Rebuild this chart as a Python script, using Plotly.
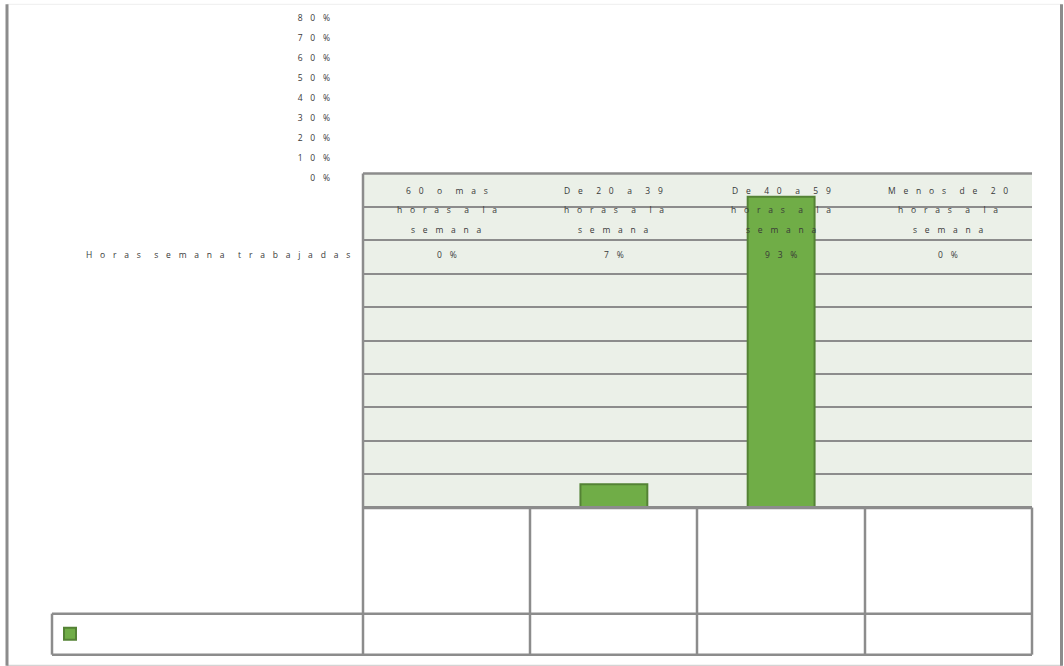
import plotly.graph_objects as go

# ---- data ----
categories = ["60 o mas horas a la semana", "De 20 a 39 horas a la semana",
              "De 40 a 59 horas a la semana", "Menos de 20 horas a la semana"]
category_lines = [["60 o mas", "horas a la", "semana"],
                  ["De 20 a 39", "horas a la", "semana"],
                  ["De 40 a 59", "horas a la", "semana"],
                  ["Menos de 20", "horas a la", "semana"]]
values = [0, 7, 93, 0]  # percent
series_name = "Horas semana trabajadas"
tick_values = [0, 10, 20, 30, 40, 50, 60, 70, 80]
tick_labels = ["0 %", "10 %", "20 %", "30 %", "40 %", "50 %", "60 %", "70 %", "80 %"]

W, H = 1064, 666
SEP = "\u2002\u2005\u2006"   # gap between letters
WSEP = "\u2002\u2006"        # extra gap between words


def spaced(s, word_gap=True):
    words = s.split(" ")
    joiner = SEP + WSEP if word_gap else SEP
    return joiner.join(SEP.join(list(w)) for w in words)


def px(x):
    return x / W


def py(y):
    # compensate the vertical mapping seen in the rendered page
    yy = (y - 5.66) / 0.983
    return 1 - yy / H


TXT = "#383838"
GRID = "#8c8c8c"
FONT = "Open Sans"
FS = 8.5

fig = go.Figure()
fig.add_trace(go.Bar(
    x=categories, y=values, name=" ", width=0.4,
    marker=dict(color="#70ad47", line=dict(color="#548235", width=2)),
    hoverinfo="skip", showlegend=True,
))
# helper trace so that the displaced percent axis is drawn
fig.add_trace(go.Scatter(
    x=[categories[0]], y=[0], yaxis="y2", mode="markers",
    marker=dict(opacity=0), hoverinfo="skip", showlegend=False,
))

x0, x1 = 363, 1032
y_top, y_bot = 173, 507

fig.update_layout(
    width=W, height=H,
    margin=dict(l=0, r=0, t=0, b=0),
    paper_bgcolor="white",
    plot_bgcolor="rgba(0,0,0,0)",
    font=dict(family=FONT, size=FS, color=TXT),
    xaxis=dict(domain=[px(x0), px(x1)], showticklabels=False, showgrid=False,
               zeroline=False, showline=False, ticks="", fixedrange=True),
    yaxis=dict(domain=[py(y_bot), py(y_top)], range=[0, 100], dtick=10,
               showticklabels=False, showgrid=True, gridcolor=GRID, gridwidth=2,
               zeroline=False, showline=False, ticks="", fixedrange=True),
    yaxis2=dict(domain=[py(178), py(18)], range=[0, 80], anchor="free",
                position=px(330), tickvals=tick_values,
                ticktext=[spaced(t, word_gap=False) for t in tick_labels],
                showgrid=False, zeroline=False, showline=False, ticks="",
                tickfont=dict(family=FONT, size=FS, color=TXT), fixedrange=True),
    showlegend=True,
    legend=dict(x=px(50), y=py(633), xanchor="left", yanchor="middle",
                bgcolor="rgba(0,0,0,0)", font=dict(size=8)),
)

shapes = []
# plot background
shapes.append(dict(type="rect", xref="x domain", yref="y domain", x0=0, x1=1, y0=0, y1=1,
                   fillcolor="#ebf0e8", line=dict(width=0), layer="below"))
# outer frame
shapes.append(dict(type="line", xref="paper", yref="paper", x0=px(7), x1=px(1062),
                   y0=py(4), y1=py(4), line=dict(color="#eeeeee", width=1)))
shapes.append(dict(type="line", xref="paper", yref="paper", x0=px(7), x1=px(1062),
                   y0=py(665), y1=py(665), line=dict(color="#d4d4d4", width=2)))
shapes.append(dict(type="line", xref="paper", yref="paper", x0=px(7), x1=px(7),
                   y0=py(4), y1=py(665), line=dict(color="#8c8c8c", width=3)))
shapes.append(dict(type="line", xref="paper", yref="paper", x0=px(1061.5), x1=px(1061.5),
                   y0=py(4), y1=py(665), line=dict(color="#8c8c8c", width=3)))
# plot top edge
shapes.append(dict(type="line", xref="paper", yref="paper", x0=px(x0), x1=px(x1),
                   y0=py(y_top), y1=py(y_top), line=dict(color=GRID, width=2.5)))
# data table grid
col_x = [363, 530, 697, 865, 1032]
shapes.append(dict(type="line", xref="paper", yref="paper", x0=px(363), x1=px(363),
                   y0=py(y_top), y1=py(654), line=dict(color=GRID, width=2.5)))
for cx in col_x[1:]:
    shapes.append(dict(type="line", xref="paper", yref="paper", x0=px(cx), x1=px(cx),
                       y0=py(y_bot), y1=py(654), line=dict(color=GRID, width=2.5)))
shapes.append(dict(type="line", xref="paper", yref="paper", x0=px(363), x1=px(1032),
                   y0=py(y_bot), y1=py(y_bot), line=dict(color=GRID, width=3.2)))
for ry in (613, 654):
    shapes.append(dict(type="line", xref="paper", yref="paper", x0=px(52), x1=px(1032),
                       y0=py(ry), y1=py(ry), line=dict(color=GRID, width=2.5)))
shapes.append(dict(type="line", xref="paper", yref="paper", x0=px(52), x1=px(52),
                   y0=py(613), y1=py(654), line=dict(color=GRID, width=2.5)))
fig.update_layout(shapes=shapes)

ann = []
line_y = [190, 209, 229]
for cat, lines, v in zip(categories, category_lines, values):
    for ln, ly in zip(lines, line_y):
        ann.append(dict(x=cat, xref="x", y=py(ly), yref="paper", text=spaced(ln),
                        showarrow=False, xanchor="center", yanchor="middle",
                        font=dict(family=FONT, size=FS, color=TXT)))
    ann.append(dict(x=cat, xref="x", y=py(254), yref="paper",
                    text=spaced(f"{v} %", word_gap=False),
                    showarrow=False, xanchor="center", yanchor="middle",
                    font=dict(family=FONT, size=FS, color=TXT)))
ann.append(dict(x=px(352), xref="paper", y=py(254), yref="paper", text=spaced(series_name),
                showarrow=False, xanchor="right", yanchor="middle",
                font=dict(family=FONT, size=FS, color=TXT)))
fig.update_layout(annotations=ann)

fig.write_html("out.html")
